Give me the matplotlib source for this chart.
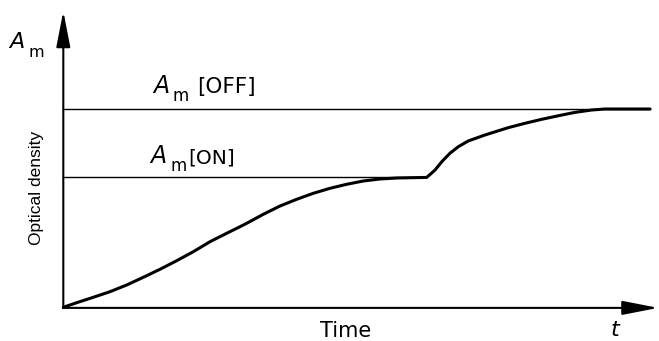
import matplotlib.pyplot as plt

# Levels (arbitrary units)
A_OFF = 100
A_ON = 65.5
T_SWITCH = 61.9

# Optical density curve
time = [0, 2.28, 5.11, 7.96, 10.81, 13.64, 16.48, 19.33, 22.16, 25.0, 27.85,
        30.12, 31.26, 34.09, 36.94, 39.78, 42.61, 45.46, 48.3, 51.13, 53.98,
        56.83, 61.94, 63.35, 64.5, 65.91, 67.33, 69.03, 71.88, 75.85, 78.7,
        81.54, 84.37, 87.22, 90.06, 92.33, 100]
density = [0, 2.32, 5.04, 7.87, 11.25, 15.13, 19.16, 23.5, 28.04, 33.08, 37.32,
           40.65, 42.36, 46.9, 51.08, 54.46, 57.49, 60.01, 62.03, 63.69, 64.7,
           65.2, 65.5, 69.2, 73.4, 77.7, 81.0, 83.9, 86.9, 90.6, 92.8,
           94.8, 96.6, 98.3, 99.5, 100, 100]

W, H = 659, 341
fig = plt.figure(figsize=(W / 100, H / 100), dpi=100)
ax = fig.add_axes([0, 0, 1, 1])
ax.set_xlim(-10.79, 101.53)
ax.set_ylim(-17.0, 154.97)
ax.axis('off')


def px(x, y):
    # pixel position -> axes fraction, for labels only
    return x / W, 1 - y / H


# reference levels
ax.plot([0, 100], [A_OFF, A_OFF], color='k', lw=1.0)
ax.plot([0, T_SWITCH], [A_ON, A_ON], color='k', lw=1.0)

# curve
ax.plot(time, density, color='k', lw=2.2, solid_joinstyle='round', solid_capstyle='round')

# axes with arrows
arrow = dict(arrowstyle='-|>,head_length=22,head_width=4.3', mutation_scale=1,
             lw=1.5, color='k', shrinkA=0, shrinkB=0)
ax.annotate('', xy=(101.4, -0.3), xytext=(0, -0.3), arrowprops=arrow)
ax.annotate('', xy=(0, 149.3), xytext=(0, -0.3), arrowprops=arrow)

font = dict(family='DejaVu Sans', color='k')


def am_label(x_a, y_a, x_m, y_m, size, msize, tail=None, x_tail=None, tsize=16):
    ax.text(*px(x_a, y_a), 'A', transform=ax.transAxes, fontsize=size,
            style='italic', ha='left', va='baseline', **font)
    ax.text(*px(x_m, y_m), 'm', transform=ax.transAxes, fontsize=msize,
            ha='left', va='baseline', **font)
    if tail:
        ax.text(*px(x_tail, y_a), tail, transform=ax.transAxes, fontsize=tsize,
                ha='left', va='baseline', **font)


am_label(9, 48, 28, 57, 16, 11.5)
am_label(153, 93, 172, 101, 17, 12, '[OFF]', 197, 15.5)
am_label(150, 163, 170, 171, 17, 12, '[ON]', 188, 14.5)

ax.text(*px(346, 337), 'Time', transform=ax.transAxes, fontsize=15,
        ha='center', va='baseline', **font)
ax.text(*px(615, 336), 't', transform=ax.transAxes, fontsize=16,
        style='italic', ha='center', va='baseline', **font)
ax.text(*px(37, 188), 'Optical density', transform=ax.transAxes, fontsize=12.5,
        family='Liberation Sans', rotation=90, ha='center', va='center')

fig.savefig('out.png', dpi=100)
